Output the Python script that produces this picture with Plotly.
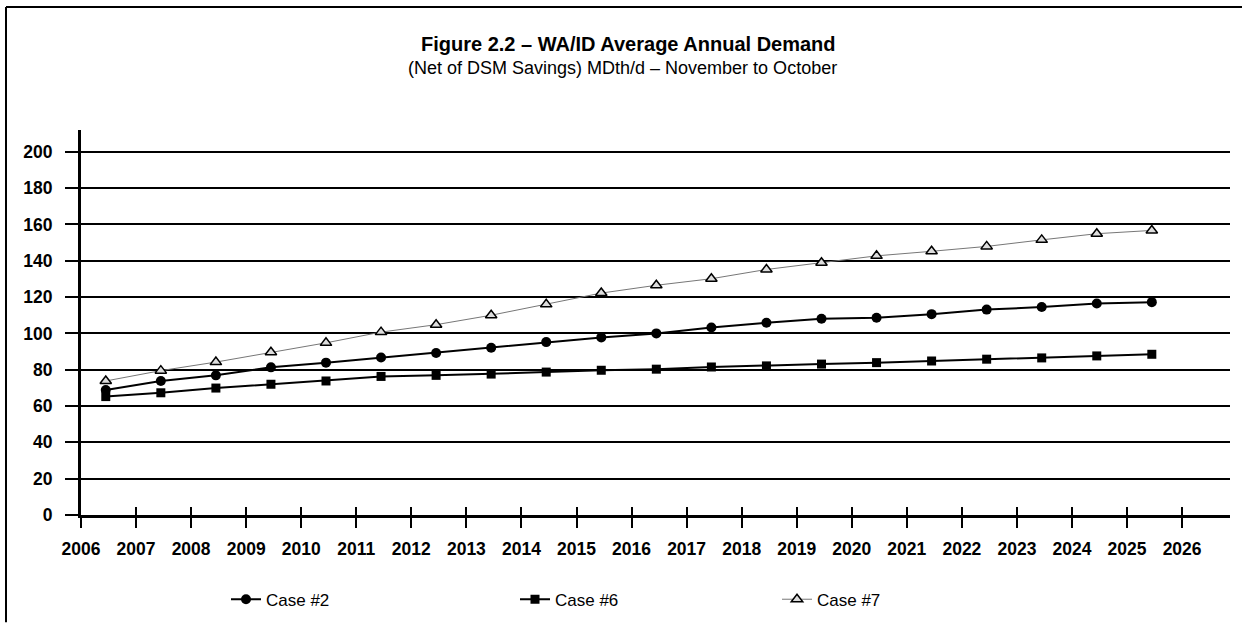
import plotly.graph_objects as go

years = list(range(2006, 2026))
case2 = [68.8, 73.8, 76.9, 81.3, 83.9, 86.7, 89.2, 92.1, 95.2, 97.8,
         100.0, 103.2, 105.9, 108.1, 108.6, 110.6, 113.1, 114.5, 116.5, 117.2]
case6 = [65.2, 67.3, 69.9, 72.0, 73.8, 76.3, 76.9, 77.6, 78.7, 79.7,
         80.3, 81.5, 82.1, 83.1, 83.9, 84.8, 85.8, 86.5, 87.6, 88.5]
case7 = [73.8, 79.5, 84.2, 89.6, 94.8, 100.7, 104.8, 110.0, 116.0, 122.2,
         126.5, 130.1, 135.2, 138.9, 142.7, 145.2, 147.9, 151.5, 154.9, 156.7]
tick_years = list(range(2006, 2027))
y_ticks = list(range(0, 201, 20))

title = "Figure 2.2 – WA/ID Average Annual Demand"
subtitle = "(Net of DSM Savings) MDth/d – November to October"

# points sit mid-category
xs = [y + 0.45 for y in years]

FONT = "Liberation Sans, Arial, sans-serif"

L, R, T, B = 81, 12, 130, 109
W, H = 1242, 630
pw, ph = W - L - R, H - T - B


def px_x(p):
    return (p - L) / pw


def px_y(p):
    return (H - B - p) / ph


fig = go.Figure()
fig.add_trace(go.Scatter(
    x=xs, y=case2, name="Case #2", mode="lines+markers", legend="legend",
    line=dict(color="black", width=2),
    marker=dict(symbol="circle", size=10, color="black"),
))
fig.add_trace(go.Scatter(
    x=xs, y=case6, name="Case #6", mode="lines+markers", legend="legend2",
    line=dict(color="black", width=2),
    marker=dict(symbol="square", size=9, color="black"),
))
fig.add_trace(go.Scatter(
    x=xs, y=case7, name="Case #7", mode="lines+markers", legend="legend3",
    line=dict(color="#777777", width=1),
    marker=dict(symbol="triangle-up", size=10, color="#dddddd",
                line=dict(color="black", width=1.5)),
))
# dummy trace to activate xaxis2 for the inner tick marks
fig.add_trace(go.Scatter(x=[None], y=[None], xaxis="x2", showlegend=False, hoverinfo="skip"))


def leg(xpx):
    return dict(
        orientation="h", x=px_x(xpx), y=px_y(607), xanchor="left", yanchor="middle",
        font=dict(size=17, family=FONT), itemwidth=30,
        bgcolor="rgba(0,0,0,0)", borderwidth=0,
    )


fig.update_layout(
    width=W, height=H,
    margin=dict(l=L, r=R, t=T, b=B),
    paper_bgcolor="white", plot_bgcolor="white",
    font=dict(family=FONT, color="black"),
    showlegend=True,
    legend=leg(226),
    legend2=leg(515),
    legend3=leg(777),
    xaxis=dict(
        range=[2006, 2026.87], tickmode="array", tickvals=tick_years,
        ticktext=[str(t) for t in tick_years],
        showgrid=False, zeroline=False, showline=True, linecolor="black", linewidth=3,
        ticks="outside", ticklen=10, tickwidth=2, tickcolor="black",
        ticklabelstandoff=6,
        tickfont=dict(size=17.5, family=FONT, weight="bold"),
    ),
    xaxis2=dict(
        range=[2006, 2026.87], overlaying="x", anchor="y", side="bottom",
        tickmode="array", tickvals=tick_years, showticklabels=False,
        showgrid=False, zeroline=False, showline=False,
        ticks="inside", ticklen=8, tickwidth=2, tickcolor="black",
    ),
    yaxis=dict(
        range=[0, 212], tickmode="array", tickvals=y_ticks,
        showgrid=True, gridcolor="black", gridwidth=2,
        zeroline=False, showline=True, linecolor="black", linewidth=3,
        ticks="outside", ticklen=13, tickwidth=2, tickcolor="black",
        ticklabelstandoff=9,
        tickfont=dict(size=17.5, family=FONT, weight="bold"),
    ),
    annotations=[
        dict(text="<b>" + title + "</b>", xref="paper", yref="paper",
             x=px_x(628), y=px_y(43), xanchor="center", yanchor="middle",
             showarrow=False, font=dict(size=20, family=FONT)),
        dict(text=subtitle, xref="paper", yref="paper",
             x=px_x(622), y=px_y(67), xanchor="center", yanchor="middle",
             showarrow=False, font=dict(size=18, family=FONT)),
    ],
    shapes=[
        dict(type="line", xref="paper", yref="paper",
             x0=px_x(6), x1=px_x(1242), y0=px_y(5), y1=px_y(5),
             line=dict(color="black", width=2)),
        dict(type="line", xref="paper", yref="paper",
             x0=px_x(6), x1=px_x(6), y0=px_y(5), y1=px_y(630),
             line=dict(color="black", width=2)),
    ],
)

fig.write_html("out.html", config={"displayModeBar": False},
               post_script="document.body.style.margin='0px';")
